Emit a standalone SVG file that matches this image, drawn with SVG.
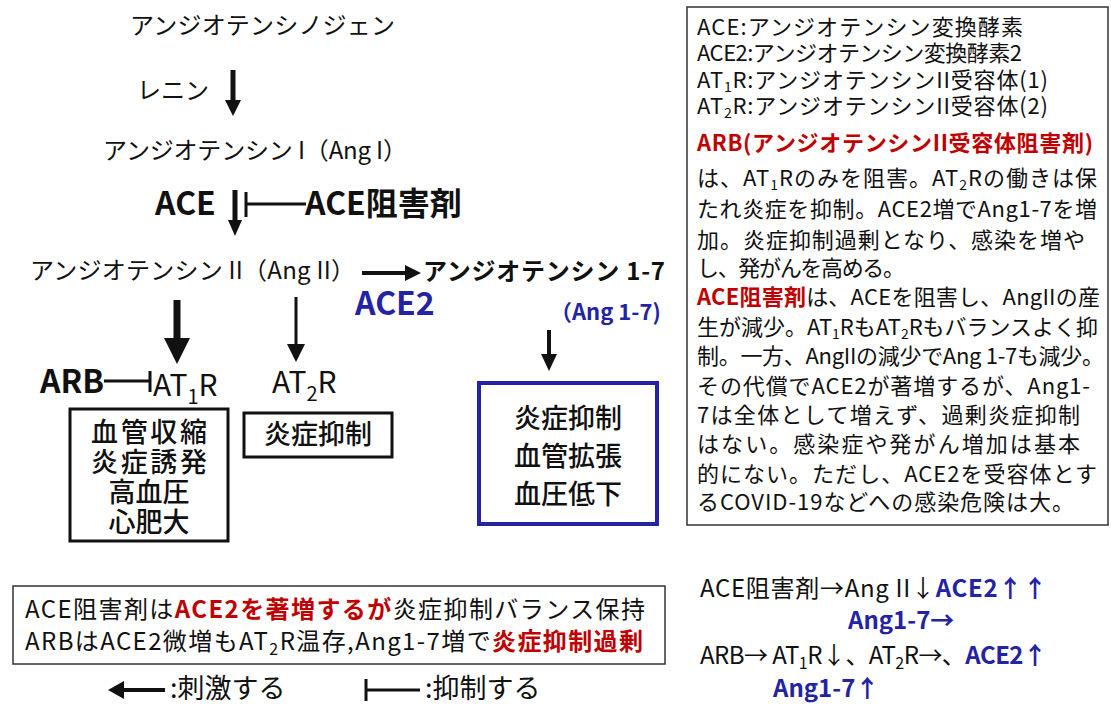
<svg xmlns="http://www.w3.org/2000/svg" width="1111" height="706" viewBox="0 0 1111 706">
<style>
text{font-family:"Noto Sans CJK JP","Noto Sans",sans-serif;fill:#111}
.m{font-size:24px}
.b{font-weight:bold}
.big{font-size:32px;font-weight:bold}
.blue{fill:#2323a3}
.red{fill:#c00000}
.box{fill:none;stroke:#111;stroke-width:3}
.bx{font-size:27px;font-weight:500}
.note{font-size:22px}
.sub{font-size:14px}
.ln{stroke:#111;fill:none}
.hd{fill:#111;stroke:none}
</style>
<rect width="1111" height="706" fill="#fff"/>
<g id="angiotensinogen"><text class="m" x="130" y="34" textLength="265">アンジオテンシノジェン</text></g>
<g id="renin"><text class="m" x="137" y="99">レニン</text></g>
<g id="angI"><text class="m" x="103" y="159" textLength="304">アンジオテンシン I（Ang I）</text></g>
<g id="ace"><text class="big" x="155" y="215">ACE</text></g>
<g id="ace-inhibitor"><text class="big" x="305" y="215">ACE阻害剤</text></g>
<g id="angII"><text class="m" x="30" y="279" textLength="325">アンジオテンシン II（Ang II）</text></g>
<g id="ang17"><text class="m b" x="423" y="280" textLength="242">アンジオテンシン 1-7</text><text class="b blue" x="550" y="320" font-size="22">（Ang 1-7)</text></g>
<g id="ace2"><text class="big blue" x="355" y="315">ACE2</text></g>
<g id="arb"><text class="big" x="40" y="393">ARB</text></g>
<g id="at1r"><text x="153" y="396" font-size="30">AT<tspan font-size="20" dy="8">1</tspan><tspan dy="-8">R</tspan></text>
<rect class="box" x="70" y="409" width="158" height="132"/>
<text class="bx" x="149" y="442" text-anchor="middle" textLength="116">血管収縮</text>
<text class="bx" x="149" y="472" text-anchor="middle" textLength="116">炎症誘発</text>
<text class="bx" x="149" y="502" text-anchor="middle">高血圧</text>
<text class="bx" x="149" y="532" text-anchor="middle">心肥大</text></g>
<g id="at2r"><text x="272" y="393" font-size="30">AT<tspan font-size="20" dy="8">2</tspan><tspan dy="-8">R</tspan></text>
<rect class="box" x="244" y="413" width="148" height="44"/>
<text class="bx" x="318" y="444" font-size="29" text-anchor="middle">炎症抑制</text></g>
<g id="effects17"><rect x="479" y="383" width="178" height="141" fill="none" stroke="#2323a3" stroke-width="4"/>
<text class="bx" x="568" y="428" font-size="29" text-anchor="middle">炎症抑制</text>
<text class="bx" x="568" y="466" font-size="29" text-anchor="middle">血管拡張</text>
<text class="bx" x="568" y="504" font-size="29" text-anchor="middle">血圧低下</text></g>
<g id="connectors">
<path class="ln" stroke-width="5" d="M233 70V102"/><polygon class="hd" points="225,100 241,100 233,116"/>
<path class="ln" stroke-width="5" d="M235 190V222"/><polygon class="hd" points="228,220 242,220 235,236"/>
<path class="ln" stroke-width="3" d="M246 192V217M246 204H306"/>
<path class="ln" stroke-width="4" d="M362 273H408"/><polygon class="hd" points="405,265 421,273 405,281"/>
<path class="ln" stroke-width="7" d="M177 300V342"/><polygon class="hd" points="164,338 190,338 177,364"/>
<path class="ln" stroke-width="3" d="M296 297V348"/><polygon class="hd" points="287,344 305,344 296,362"/>
<path class="ln" stroke-width="4" d="M549 330V357"/><polygon class="hd" points="541,354 557,354 549,371"/>
<path class="ln" stroke-width="3" d="M104 381H150M150 371V392"/>
</g>
<g id="legend-box">
<rect x="687" y="7" width="421" height="518" fill="none" stroke="#333" stroke-width="1.5"/>
<text class="note" x="697" y="35" textLength="326">ACE:アンジオテンシン変換酵素</text>
<text class="note" x="697" y="61" textLength="325">ACE2:アンジオテンシン変換酵素2</text>
<text class="note" x="697" y="88" textLength="351">AT<tspan class="sub" dy="4">1</tspan><tspan dy="-4">R:アンジオテンシンII受容体(1)</tspan></text>
<text class="note" x="697" y="114" textLength="351">AT<tspan class="sub" dy="4">2</tspan><tspan dy="-4">R:アンジオテンシンII受容体(2)</tspan></text>
<text class="note b red" x="697" y="151" textLength="396">ARB(アンジオテンシンII受容体阻害剤)</text>
<text class="note" x="697" y="186" textLength="400">は、AT<tspan class="sub" dy="4">1</tspan><tspan dy="-4">Rのみを阻害。AT</tspan><tspan class="sub" dy="4">2</tspan><tspan dy="-4">Rの働きは保</tspan></text>
<text class="note" x="697" y="217" textLength="400">たれ炎症を抑制。ACE2増でAng1-7を増</text>
<text class="note" x="697" y="248" textLength="388">加。炎症抑制過剰となり、感染を増や</text>
<text class="note" x="697" y="276" textLength="208">し、発がんを高める。</text>
<text class="note" x="697" y="305" textLength="403"><tspan class="b red">ACE阻害剤</tspan>は、ACEを阻害し、AngIIの産</text>
<text class="note" x="697" y="335" textLength="401">生が減少。AT<tspan class="sub" dy="4">1</tspan><tspan dy="-4">RもAT</tspan><tspan class="sub" dy="4">2</tspan><tspan dy="-4">Rもバランスよく抑</tspan></text>
<text class="note" x="697" y="364" textLength="407">制。一方、AngIIの減少でAng 1-7も減少。</text>
<text class="note" x="697" y="394" textLength="393">その代償でACE2が著増するが、Ang1-</text>
<text class="note" x="697" y="423" textLength="383">7は全体として増えず、過剰炎症抑制</text>
<text class="note" x="697" y="452" textLength="383">はない。感染症や発がん増加は基本</text>
<text class="note" x="697" y="482" textLength="400">的にない。ただし、ACE2を受容体とす</text>
<text class="note" x="697" y="510" textLength="377">るCOVID-19などへの感染危険は大。</text>
</g>
<g id="summary-box">
<rect x="13" y="586" width="652" height="78" fill="none" stroke="#333" stroke-width="1.5"/>
<text x="25" y="618" font-size="24" textLength="620">ACE阻害剤は<tspan class="b red">ACE2を著増するが</tspan>炎症抑制バランス保持</text>
<text x="25" y="650" font-size="24" textLength="618">ARBはACE2微増もAT<tspan font-size="16" dy="5">2</tspan><tspan dy="-5">R温存,Ang1-7増で</tspan><tspan class="b red">炎症抑制過剰</tspan></text>
</g>
<g id="key">
<path class="ln" stroke-width="4" d="M122 690H165"/><polygon class="hd" points="124,681 108,690 124,699"/>
<text x="170" y="698" font-size="27">:刺激する</text>
<path class="ln" stroke-width="3" d="M366 679V701M366 690H420"/>
<text x="425" y="698" font-size="27">:抑制する</text>
</g>
<g id="comparison">
<text x="700" y="597" font-size="24" textLength="347">ACE阻害剤→Ang II↓<tspan class="b blue">ACE2↑↑</tspan></text>
<text class="b blue" x="848" y="629" font-size="24">Ang1-7→</text>
<text x="700" y="664" font-size="24" textLength="347">ARB→ AT<tspan font-size="16" dy="5">1</tspan><tspan dy="-5">R↓、AT</tspan><tspan font-size="16" dy="5">2</tspan><tspan dy="-5">R→、</tspan><tspan class="b blue">ACE2↑</tspan></text>
<text class="b blue" x="773" y="697" font-size="24">Ang1-7↑</text>
</g>
</svg>
